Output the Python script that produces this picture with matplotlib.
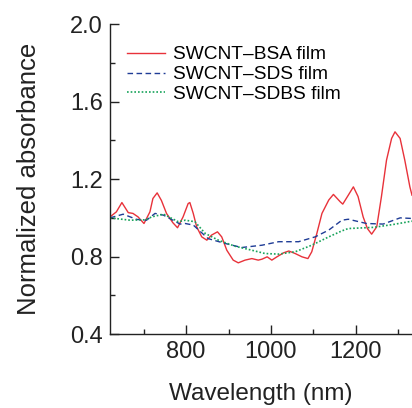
import matplotlib
matplotlib.use('Agg')
import matplotlib.pyplot as plt
from matplotlib.ticker import MultipleLocator

plt.rcParams['font.family'] = ['Liberation Sans', 'DejaVu Sans']

# SWCNT-BSA film
bsa_x = [621, 636, 649, 664, 675, 687, 701, 715, 722, 732, 742, 754, 769, 780, 793, 805,
         809, 817, 825, 837, 849, 860, 874, 884, 896, 911, 923, 939, 955, 970, 979, 991,
         1002, 1014, 1030, 1042, 1057, 1073, 1087, 1096, 1108, 1120, 1136, 1147, 1163,
         1169, 1182, 1194, 1205, 1217, 1227, 1237, 1249, 1260, 1272, 1284, 1292, 1304,
         1315, 1327, 1332]
bsa_y = [1.005, 1.031, 1.079, 1.027, 1.023, 1.005, 0.971, 1.031, 1.10, 1.129, 1.09, 1.023,
         0.975, 0.949, 1.005, 1.074, 1.079, 1.023, 0.954, 0.902, 0.885, 0.911, 0.928, 0.902,
         0.833, 0.782, 0.768, 0.782, 0.79, 0.782, 0.787, 0.799, 0.782, 0.799, 0.82, 0.829,
         0.816, 0.799, 0.79, 0.825, 0.92, 1.023, 1.092, 1.121, 1.083, 1.071, 1.117, 1.16,
         1.11, 1.005, 0.945, 0.916, 0.954, 1.109, 1.298, 1.41, 1.444, 1.41, 1.298, 1.16,
         1.117]

# SWCNT-SDS film
sds_x = [621, 652, 684, 707, 727, 747, 786, 798, 817, 852, 892, 931, 979, 1018, 1065,
         1104, 1136, 1167, 1182, 1225, 1264, 1304, 1332]
sds_y = [1.0, 1.019, 0.992, 0.988, 1.023, 1.014, 0.968, 0.971, 0.963, 0.893, 0.868, 0.847,
         0.859, 0.877, 0.877, 0.902, 0.937, 0.988, 0.993, 0.971, 0.968, 1.0, 0.997]

# SWCNT-SDBS film
sdbs_x = [621, 633, 668, 705, 719, 747, 782, 798, 821, 845, 876, 915, 955, 986, 1018,
          1057, 1096, 1136, 1167, 1182, 1241, 1288, 1332]
sdbs_y = [1.0, 0.997, 0.988, 0.99, 1.005, 1.019, 0.98, 0.988, 0.98, 0.92, 0.885, 0.854,
          0.833, 0.816, 0.813, 0.825, 0.859, 0.902, 0.933, 0.945, 0.951, 0.966, 0.983]

fig = plt.figure(figsize=(4.12, 4.08), dpi=100)
ax = fig.add_axes([0.267, 0.181, 0.733, 0.760])

ax.plot(bsa_x, bsa_y, color='#e8323a', lw=1.0, label='SWCNT\u2013BSA film')
ax.plot(sds_x, sds_y, color='#1f3c96', lw=1.0, ls=(0, (4, 2.5)), label='SWCNT\u2013SDS film')
ax.plot(sdbs_x, sdbs_y, color='#17a35a', lw=1.2, ls=(0, (1, 1.2)), label='SWCNT\u2013SDBS film')

ax.set_xlim(621, 1332)
ax.set_ylim(0.4, 2.0)
ax.xaxis.set_major_locator(MultipleLocator(200))
ax.xaxis.set_minor_locator(MultipleLocator(100))
ax.yaxis.set_major_locator(MultipleLocator(0.4))
ax.yaxis.set_minor_locator(MultipleLocator(0.2))
ax.yaxis.set_major_formatter(plt.FormatStrFormatter('%.1f'))

ax.spines['top'].set_visible(False)
ax.spines['right'].set_visible(False)
for s in ('left', 'bottom'):
    ax.spines[s].set_color('#222222')
    ax.spines[s].set_linewidth(1.0)
ax.tick_params(which='major', direction='in', length=6.5, width=1, labelsize=17,
               colors='#222222', pad=5)
ax.tick_params(which='minor', direction='in', length=3.5, width=1, colors='#222222')

ax.set_xlabel('Wavelength (nm)', fontsize=17.5, color='#222222', labelpad=14)
ax.set_ylabel('Normalized absorbance', fontsize=18.5, color='#222222', labelpad=21)

ax.legend(loc='upper left', bbox_to_anchor=(0.0, 0.985), frameon=False, fontsize=13.8,
          handlelength=1.95, handletextpad=0.42, labelspacing=0.13, borderaxespad=0.5)

fig.savefig('out.png', dpi=100)
